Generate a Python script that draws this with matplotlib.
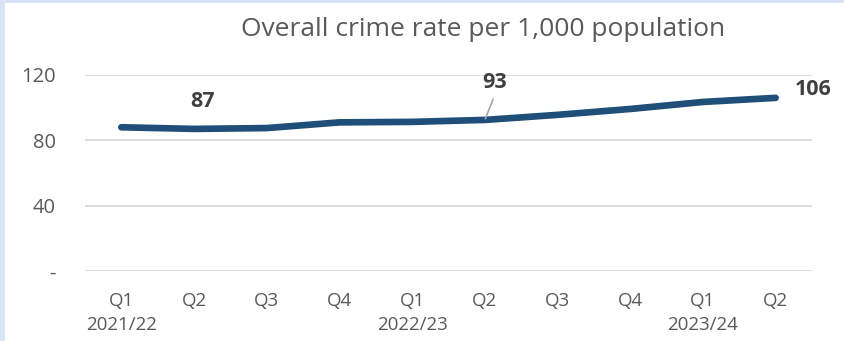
import matplotlib
matplotlib.use("Agg")
import matplotlib.pyplot as plt
from matplotlib.patches import Rectangle

quarters = ["Q1", "Q2", "Q3", "Q4", "Q1", "Q2", "Q3", "Q4", "Q1", "Q2"]
years = ["2021/22", "", "", "", "2022/23", "", "", "", "2023/24", ""]
rate = [88, 87, 87.5, 91, 91.3, 92.5, 95.6, 99.2, 103.5, 106]
yticks = [0, 40, 80, 120]
ytick_labels = ["-", "40", "80", "120"]

plt.rcParams['font.family'] = ['Open Sans', 'DejaVu Sans']
TXT = "#595959"
LINE = "#1F4E79"

fig = plt.figure(figsize=(8.45, 3.41), dpi=100)
fig.patch.set_facecolor("#DAE3F3")
fig.add_artist(Rectangle((5/845, 0), 1, 1 - 3/341, transform=fig.transFigure,
                         facecolor="white", edgecolor="none", zorder=0))

ax = fig.add_axes([85/845, 1 - 271/341, (812-85)/845, (271-75)/341])
ax.set_facecolor("none")
x = list(range(len(rate)))
ax.plot(x, rate, color=LINE, lw=4.8, solid_capstyle="round", solid_joinstyle="round", zorder=3)
ax.set_xlim(-0.5, len(rate) - 0.5)
ax.set_ylim(0, 120)
ax.set_yticks(yticks)
ax.set_yticklabels(ytick_labels)
ax.set_xticks(x)
ax.set_xticklabels([q + ("\n" + y if y else "") for q, y in zip(quarters, years)],
                   linespacing=1.45)
ax.tick_params(axis="both", length=0, colors=TXT)
ax.tick_params(axis="y", pad=21, labelsize=14.5)
ax.tick_params(axis="x", pad=15, labelsize=13.5)
for lab in ax.get_xticklabels():
    lab.set_verticalalignment("top")
for s in ax.spines.values():
    s.set_visible(False)
ax.grid(axis="y", color="#D9D9D9", lw=1.3)
ax.set_axisbelow(True)

# data labels
LBL = "#404040"
ax.annotate(f"{87}", (1, rate[1]), xytext=(6, 20), textcoords="offset points",
            ha="center", va="center", fontsize=15.5, fontweight="bold", color=LBL)
ax.annotate(f"{93}", (5, rate[5]), xytext=(7, 27), textcoords="offset points",
            ha="center", va="center", fontsize=15.5, fontweight="bold", color=LBL)
ax.annotate("", (5, rate[5]), xytext=(6, 15), textcoords="offset points",
            arrowprops=dict(arrowstyle="-", color="#A6A6A6", lw=1.2, shrinkA=0, shrinkB=1))
ax.annotate(f"{106}", (9, rate[9]), xytext=(14, 6), textcoords="offset points",
            ha="left", va="center", fontsize=15.5, fontweight="bold", color=LBL,
            annotation_clip=False)

fig.text(483/845, 1 - 29/341, "Overall crime rate per 1,000 population", ha="center",
         va="center", fontsize=19, color=TXT)

fig.savefig("out.png", dpi=100, facecolor=fig.get_facecolor())
